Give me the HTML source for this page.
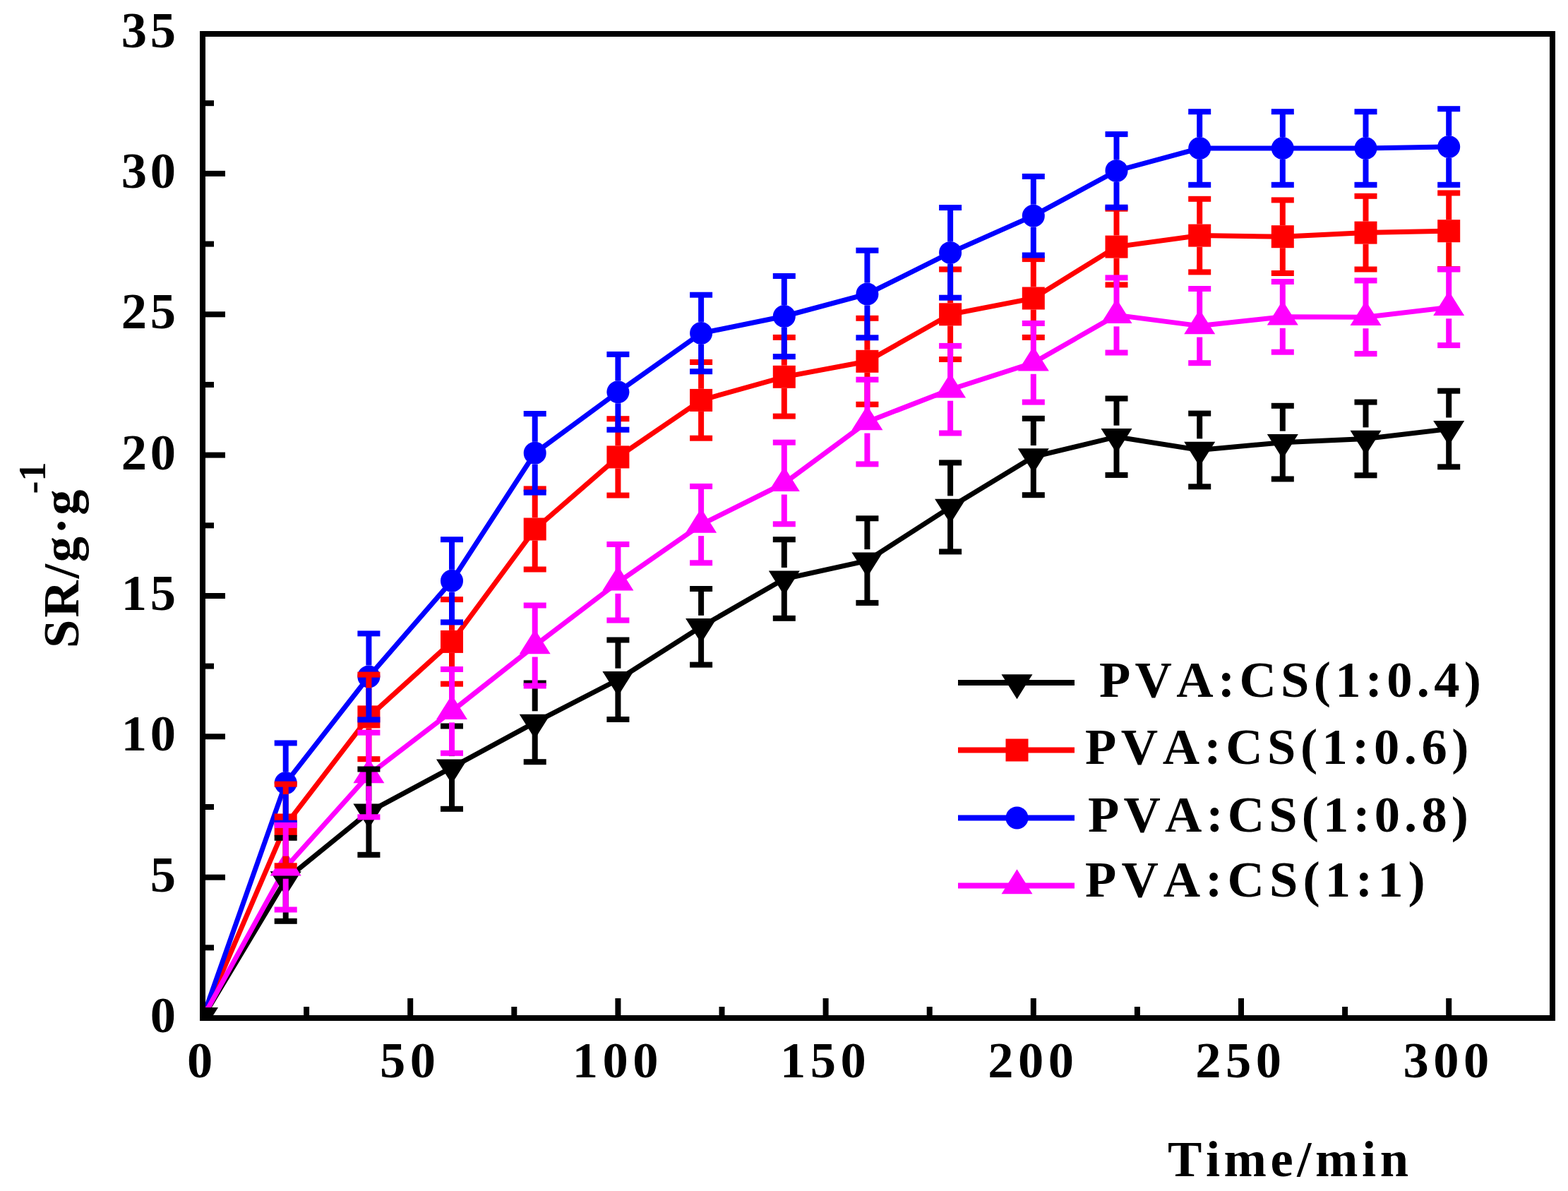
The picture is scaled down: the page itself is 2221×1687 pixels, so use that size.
<!DOCTYPE html>
<html><head><meta charset="utf-8"><title>Swelling ratio vs time</title>
<style>
html,body{margin:0;padding:0;background:#fff;}
svg{display:block;}
.t{font-family:"Liberation Serif","Times New Roman",serif;font-weight:bold;font-size:72.5px;fill:#000;font-kerning:none;}
</style></head>
<body>
<svg width="2221" height="1687" viewBox="0 0 2221 1687">
<rect width="2221" height="1687" fill="#fff"/>
<rect x="287.0" y="48.0" width="1912.0" height="1394.0" fill="none" stroke="#000" stroke-width="8"/>
<rect x="287.0" y="1438.0" width="32" height="8" fill="#000"/>
<rect x="287.0" y="1338.3" width="16" height="8" fill="#000"/>
<rect x="287.0" y="1238.7" width="32" height="8" fill="#000"/>
<rect x="287.0" y="1139.0" width="16" height="8" fill="#000"/>
<rect x="287.0" y="1039.3" width="32" height="8" fill="#000"/>
<rect x="287.0" y="939.6" width="16" height="8" fill="#000"/>
<rect x="287.0" y="840.0" width="32" height="8" fill="#000"/>
<rect x="287.0" y="740.3" width="16" height="8" fill="#000"/>
<rect x="287.0" y="640.6" width="32" height="8" fill="#000"/>
<rect x="287.0" y="540.9" width="16" height="8" fill="#000"/>
<rect x="287.0" y="441.3" width="32" height="8" fill="#000"/>
<rect x="287.0" y="341.6" width="16" height="8" fill="#000"/>
<rect x="287.0" y="241.9" width="32" height="8" fill="#000"/>
<rect x="287.0" y="142.2" width="16" height="8" fill="#000"/>
<rect x="283.0" y="1414.0" width="8" height="28" fill="#000"/>
<rect x="430.1" y="1426.0" width="8" height="16" fill="#000"/>
<rect x="577.2" y="1414.0" width="8" height="28" fill="#000"/>
<rect x="724.3" y="1426.0" width="8" height="16" fill="#000"/>
<rect x="871.4" y="1414.0" width="8" height="28" fill="#000"/>
<rect x="1018.5" y="1426.0" width="8" height="16" fill="#000"/>
<rect x="1165.6" y="1414.0" width="8" height="28" fill="#000"/>
<rect x="1312.7" y="1426.0" width="8" height="16" fill="#000"/>
<rect x="1459.8" y="1414.0" width="8" height="28" fill="#000"/>
<rect x="1606.9" y="1426.0" width="8" height="16" fill="#000"/>
<rect x="1754.0" y="1414.0" width="8" height="28" fill="#000"/>
<rect x="1901.1" y="1426.0" width="8" height="16" fill="#000"/>
<rect x="2048.2" y="1414.0" width="8" height="28" fill="#000"/>
<clipPath id="pa"><rect x="291.0" y="52.0" width="1904.0" height="1386.0"/></clipPath>
<g clip-path="url(#pa)"><polyline points="287.0,1442.0 404.7,1245.8 522.4,1150.2 640.0,1087.2 757.7,1023.4 875.4,962.8 993.1,887.8 1110.8,820.0 1228.4,794.1 1346.1,718.4 1463.8,647.0 1581.5,618.7 1699.2,637.4 1816.8,626.7 1934.5,621.5 2052.2,607.5" fill="none" stroke="#000000" stroke-width="7" stroke-linejoin="miter"/><polyline points="287.0,1442.0 404.7,1168.5 522.4,1015.4 640.0,908.9 757.7,749.5 875.4,647.4 993.1,566.9 1110.8,533.8 1228.4,511.8 1346.1,445.3 1463.8,422.5 1581.5,349.6 1699.2,333.6 1816.8,335.2 1934.5,329.6 2052.2,327.2" fill="none" stroke="#ff0000" stroke-width="7" stroke-linejoin="miter"/><polyline points="287.0,1442.0 404.7,1109.1 522.4,958.4 640.0,822.8 757.7,641.8 875.4,555.3 993.1,472.0 1110.8,448.0 1228.4,416.5 1346.1,357.9 1463.8,305.7 1581.5,241.9 1699.2,210.0 1816.8,210.0 1934.5,210.0 2052.2,208.0" fill="none" stroke="#0000ff" stroke-width="7" stroke-linejoin="miter"/><polyline points="287.0,1442.0 404.7,1228.7 522.4,1097.5 640.0,1007.4 757.7,914.5 875.4,824.8 993.1,743.1 1110.8,684.5 1228.4,597.6 1346.1,551.7 1463.8,513.8 1581.5,446.4 1699.2,461.6 1816.8,448.8 1934.5,449.2 2052.2,435.3" fill="none" stroke="#ff00ff" stroke-width="7" stroke-linejoin="miter"/></g>
<polygon points="382.7,1234.2 426.7,1234.2 404.7,1269.2" fill="#000000"/>
<polygon points="500.4,1138.5 544.4,1138.5 522.4,1173.5" fill="#000000"/>
<polygon points="618.0,1075.5 662.0,1075.5 640.0,1110.5" fill="#000000"/>
<polygon points="735.7,1011.7 779.7,1011.7 757.7,1046.7" fill="#000000"/>
<polygon points="853.4,951.1 897.4,951.1 875.4,986.1" fill="#000000"/>
<polygon points="971.1,876.1 1015.1,876.1 993.1,911.1" fill="#000000"/>
<polygon points="1088.8,808.4 1132.8,808.4 1110.8,843.4" fill="#000000"/>
<polygon points="1206.4,782.4 1250.4,782.4 1228.4,817.4" fill="#000000"/>
<polygon points="1324.1,706.7 1368.1,706.7 1346.1,741.7" fill="#000000"/>
<polygon points="1441.8,635.3 1485.8,635.3 1463.8,670.3" fill="#000000"/>
<polygon points="1559.5,607.0 1603.5,607.0 1581.5,642.0" fill="#000000"/>
<polygon points="1677.2,625.8 1721.2,625.8 1699.2,660.8" fill="#000000"/>
<polygon points="1794.8,615.0 1838.8,615.0 1816.8,650.0" fill="#000000"/>
<polygon points="1912.5,609.8 1956.5,609.8 1934.5,644.8" fill="#000000"/>
<polygon points="2030.2,595.9 2074.2,595.9 2052.2,630.9" fill="#000000"/>
<rect x="388.7" y="1152.5" width="32" height="32" fill="#ff0000"/>
<rect x="506.4" y="999.4" width="32" height="32" fill="#ff0000"/>
<rect x="624.0" y="892.9" width="32" height="32" fill="#ff0000"/>
<rect x="741.7" y="733.5" width="32" height="32" fill="#ff0000"/>
<rect x="859.4" y="631.4" width="32" height="32" fill="#ff0000"/>
<rect x="977.1" y="550.9" width="32" height="32" fill="#ff0000"/>
<rect x="1094.8" y="517.8" width="32" height="32" fill="#ff0000"/>
<rect x="1212.4" y="495.8" width="32" height="32" fill="#ff0000"/>
<rect x="1330.1" y="429.3" width="32" height="32" fill="#ff0000"/>
<rect x="1447.8" y="406.5" width="32" height="32" fill="#ff0000"/>
<rect x="1565.5" y="333.6" width="32" height="32" fill="#ff0000"/>
<rect x="1683.2" y="317.6" width="32" height="32" fill="#ff0000"/>
<rect x="1800.8" y="319.2" width="32" height="32" fill="#ff0000"/>
<rect x="1918.5" y="313.6" width="32" height="32" fill="#ff0000"/>
<rect x="2036.2" y="311.2" width="32" height="32" fill="#ff0000"/>
<circle cx="404.7" cy="1109.1" r="16.0" fill="#0000ff"/>
<circle cx="522.4" cy="958.4" r="16.0" fill="#0000ff"/>
<circle cx="640.0" cy="822.8" r="16.0" fill="#0000ff"/>
<circle cx="757.7" cy="641.8" r="16.0" fill="#0000ff"/>
<circle cx="875.4" cy="555.3" r="16.0" fill="#0000ff"/>
<circle cx="993.1" cy="472.0" r="16.0" fill="#0000ff"/>
<circle cx="1110.8" cy="448.0" r="16.0" fill="#0000ff"/>
<circle cx="1228.4" cy="416.5" r="16.0" fill="#0000ff"/>
<circle cx="1346.1" cy="357.9" r="16.0" fill="#0000ff"/>
<circle cx="1463.8" cy="305.7" r="16.0" fill="#0000ff"/>
<circle cx="1581.5" cy="241.9" r="16.0" fill="#0000ff"/>
<circle cx="1699.2" cy="210.0" r="16.0" fill="#0000ff"/>
<circle cx="1816.8" cy="210.0" r="16.0" fill="#0000ff"/>
<circle cx="1934.5" cy="210.0" r="16.0" fill="#0000ff"/>
<circle cx="2052.2" cy="208.0" r="16.0" fill="#0000ff"/>
<polygon points="404.7,1205.4 426.7,1240.4 382.7,1240.4" fill="#ff00ff"/>
<polygon points="522.4,1074.2 544.4,1109.2 500.4,1109.2" fill="#ff00ff"/>
<polygon points="640.0,984.1 662.0,1019.1 618.0,1019.1" fill="#ff00ff"/>
<polygon points="757.7,891.2 779.7,926.2 735.7,926.2" fill="#ff00ff"/>
<polygon points="875.4,801.5 897.4,836.5 853.4,836.5" fill="#ff00ff"/>
<polygon points="993.1,719.7 1015.1,754.7 971.1,754.7" fill="#ff00ff"/>
<polygon points="1110.8,661.1 1132.8,696.1 1088.8,696.1" fill="#ff00ff"/>
<polygon points="1228.4,574.2 1250.4,609.2 1206.4,609.2" fill="#ff00ff"/>
<polygon points="1346.1,528.4 1368.1,563.4 1324.1,563.4" fill="#ff00ff"/>
<polygon points="1463.8,490.5 1485.8,525.5 1441.8,525.5" fill="#ff00ff"/>
<polygon points="1581.5,423.1 1603.5,458.1 1559.5,458.1" fill="#ff00ff"/>
<polygon points="1699.2,438.3 1721.2,473.3 1677.2,473.3" fill="#ff00ff"/>
<polygon points="1816.8,425.5 1838.8,460.5 1794.8,460.5" fill="#ff00ff"/>
<polygon points="1934.5,425.9 1956.5,460.9 1912.5,460.9" fill="#ff00ff"/>
<polygon points="2052.2,411.9 2074.2,446.9 2030.2,446.9" fill="#ff00ff"/>
<rect x="400.7" y="1186.8" width="8" height="43.0" fill="#000000"/>
<rect x="400.7" y="1261.8" width="8" height="43.0" fill="#000000"/>
<rect x="388.7" y="1182.8" width="32" height="8" fill="#000000"/>
<rect x="388.7" y="1300.8" width="32" height="8" fill="#000000"/>
<rect x="518.4" y="1089.5" width="8" height="44.6" fill="#000000"/>
<rect x="518.4" y="1166.2" width="8" height="44.6" fill="#000000"/>
<rect x="506.4" y="1085.5" width="32" height="8" fill="#000000"/>
<rect x="506.4" y="1206.8" width="32" height="8" fill="#000000"/>
<rect x="636.0" y="1028.5" width="8" height="42.6" fill="#000000"/>
<rect x="636.0" y="1103.2" width="8" height="42.6" fill="#000000"/>
<rect x="624.0" y="1024.5" width="32" height="8" fill="#000000"/>
<rect x="624.0" y="1141.8" width="32" height="8" fill="#000000"/>
<rect x="753.7" y="967.5" width="8" height="39.8" fill="#000000"/>
<rect x="753.7" y="1039.4" width="8" height="39.8" fill="#000000"/>
<rect x="741.7" y="963.5" width="32" height="8" fill="#000000"/>
<rect x="741.7" y="1075.2" width="32" height="8" fill="#000000"/>
<rect x="871.4" y="906.5" width="8" height="40.2" fill="#000000"/>
<rect x="871.4" y="978.8" width="8" height="40.2" fill="#000000"/>
<rect x="859.4" y="902.5" width="32" height="8" fill="#000000"/>
<rect x="859.4" y="1015.0" width="32" height="8" fill="#000000"/>
<rect x="989.1" y="834.0" width="8" height="37.8" fill="#000000"/>
<rect x="989.1" y="903.8" width="8" height="37.8" fill="#000000"/>
<rect x="977.1" y="830.0" width="32" height="8" fill="#000000"/>
<rect x="977.1" y="937.6" width="32" height="8" fill="#000000"/>
<rect x="1106.8" y="764.2" width="8" height="39.8" fill="#000000"/>
<rect x="1106.8" y="836.0" width="8" height="39.8" fill="#000000"/>
<rect x="1094.8" y="760.2" width="32" height="8" fill="#000000"/>
<rect x="1094.8" y="871.8" width="32" height="8" fill="#000000"/>
<rect x="1224.4" y="734.3" width="8" height="43.8" fill="#000000"/>
<rect x="1224.4" y="810.1" width="8" height="43.8" fill="#000000"/>
<rect x="1212.4" y="730.3" width="32" height="8" fill="#000000"/>
<rect x="1212.4" y="849.9" width="32" height="8" fill="#000000"/>
<rect x="1342.1" y="655.4" width="8" height="47.0" fill="#000000"/>
<rect x="1342.1" y="734.4" width="8" height="47.0" fill="#000000"/>
<rect x="1330.1" y="651.4" width="32" height="8" fill="#000000"/>
<rect x="1330.1" y="777.4" width="32" height="8" fill="#000000"/>
<rect x="1459.8" y="592.8" width="8" height="38.2" fill="#000000"/>
<rect x="1459.8" y="663.0" width="8" height="38.2" fill="#000000"/>
<rect x="1447.8" y="588.8" width="32" height="8" fill="#000000"/>
<rect x="1447.8" y="697.2" width="32" height="8" fill="#000000"/>
<rect x="1577.5" y="564.5" width="8" height="38.2" fill="#000000"/>
<rect x="1577.5" y="634.7" width="8" height="38.2" fill="#000000"/>
<rect x="1565.5" y="560.5" width="32" height="8" fill="#000000"/>
<rect x="1565.5" y="668.9" width="32" height="8" fill="#000000"/>
<rect x="1695.2" y="585.6" width="8" height="35.8" fill="#000000"/>
<rect x="1695.2" y="653.4" width="8" height="35.8" fill="#000000"/>
<rect x="1683.2" y="581.6" width="32" height="8" fill="#000000"/>
<rect x="1683.2" y="685.3" width="32" height="8" fill="#000000"/>
<rect x="1812.8" y="574.8" width="8" height="35.8" fill="#000000"/>
<rect x="1812.8" y="642.7" width="8" height="35.8" fill="#000000"/>
<rect x="1800.8" y="570.8" width="32" height="8" fill="#000000"/>
<rect x="1800.8" y="674.5" width="32" height="8" fill="#000000"/>
<rect x="1930.5" y="569.6" width="8" height="35.8" fill="#000000"/>
<rect x="1930.5" y="637.5" width="8" height="35.8" fill="#000000"/>
<rect x="1918.5" y="565.6" width="32" height="8" fill="#000000"/>
<rect x="1918.5" y="669.3" width="32" height="8" fill="#000000"/>
<rect x="2048.2" y="553.7" width="8" height="37.8" fill="#000000"/>
<rect x="2048.2" y="623.5" width="8" height="37.8" fill="#000000"/>
<rect x="2036.2" y="549.7" width="32" height="8" fill="#000000"/>
<rect x="2036.2" y="657.3" width="32" height="8" fill="#000000"/>
<rect x="400.7" y="1110.7" width="8" height="41.8" fill="#ff0000"/>
<rect x="400.7" y="1184.5" width="8" height="41.8" fill="#ff0000"/>
<rect x="388.7" y="1106.7" width="32" height="8" fill="#ff0000"/>
<rect x="388.7" y="1222.3" width="32" height="8" fill="#ff0000"/>
<rect x="518.4" y="955.6" width="8" height="43.8" fill="#ff0000"/>
<rect x="518.4" y="1031.4" width="8" height="43.8" fill="#ff0000"/>
<rect x="506.4" y="951.6" width="32" height="8" fill="#ff0000"/>
<rect x="506.4" y="1071.2" width="32" height="8" fill="#ff0000"/>
<rect x="636.0" y="849.1" width="8" height="43.8" fill="#ff0000"/>
<rect x="636.0" y="924.9" width="8" height="43.8" fill="#ff0000"/>
<rect x="624.0" y="845.1" width="32" height="8" fill="#ff0000"/>
<rect x="624.0" y="964.7" width="32" height="8" fill="#ff0000"/>
<rect x="753.7" y="692.4" width="8" height="41.0" fill="#ff0000"/>
<rect x="753.7" y="765.5" width="8" height="41.0" fill="#ff0000"/>
<rect x="741.7" y="688.4" width="32" height="8" fill="#ff0000"/>
<rect x="741.7" y="802.5" width="32" height="8" fill="#ff0000"/>
<rect x="871.4" y="593.2" width="8" height="38.2" fill="#ff0000"/>
<rect x="871.4" y="663.4" width="8" height="38.2" fill="#ff0000"/>
<rect x="859.4" y="589.2" width="32" height="8" fill="#ff0000"/>
<rect x="859.4" y="697.6" width="32" height="8" fill="#ff0000"/>
<rect x="989.1" y="513.0" width="8" height="37.8" fill="#ff0000"/>
<rect x="989.1" y="582.9" width="8" height="37.8" fill="#ff0000"/>
<rect x="977.1" y="509.0" width="32" height="8" fill="#ff0000"/>
<rect x="977.1" y="616.7" width="32" height="8" fill="#ff0000"/>
<rect x="1106.8" y="477.9" width="8" height="39.8" fill="#ff0000"/>
<rect x="1106.8" y="549.8" width="8" height="39.8" fill="#ff0000"/>
<rect x="1094.8" y="473.9" width="32" height="8" fill="#ff0000"/>
<rect x="1094.8" y="585.6" width="32" height="8" fill="#ff0000"/>
<rect x="1224.4" y="450.8" width="8" height="45.0" fill="#ff0000"/>
<rect x="1224.4" y="527.8" width="8" height="45.0" fill="#ff0000"/>
<rect x="1212.4" y="446.8" width="32" height="8" fill="#ff0000"/>
<rect x="1212.4" y="568.8" width="32" height="8" fill="#ff0000"/>
<rect x="1342.1" y="381.5" width="8" height="47.8" fill="#ff0000"/>
<rect x="1342.1" y="461.3" width="8" height="47.8" fill="#ff0000"/>
<rect x="1330.1" y="377.5" width="32" height="8" fill="#ff0000"/>
<rect x="1330.1" y="505.0" width="32" height="8" fill="#ff0000"/>
<rect x="1459.8" y="367.1" width="8" height="39.4" fill="#ff0000"/>
<rect x="1459.8" y="438.5" width="8" height="39.4" fill="#ff0000"/>
<rect x="1447.8" y="363.1" width="32" height="8" fill="#ff0000"/>
<rect x="1447.8" y="473.9" width="32" height="8" fill="#ff0000"/>
<rect x="1577.5" y="295.7" width="8" height="37.8" fill="#ff0000"/>
<rect x="1577.5" y="365.6" width="8" height="37.8" fill="#ff0000"/>
<rect x="1565.5" y="291.7" width="32" height="8" fill="#ff0000"/>
<rect x="1565.5" y="399.4" width="32" height="8" fill="#ff0000"/>
<rect x="1695.2" y="281.8" width="8" height="35.8" fill="#ff0000"/>
<rect x="1695.2" y="349.6" width="8" height="35.8" fill="#ff0000"/>
<rect x="1683.2" y="277.8" width="32" height="8" fill="#ff0000"/>
<rect x="1683.2" y="381.4" width="32" height="8" fill="#ff0000"/>
<rect x="1812.8" y="283.4" width="8" height="35.8" fill="#ff0000"/>
<rect x="1812.8" y="351.2" width="8" height="35.8" fill="#ff0000"/>
<rect x="1800.8" y="279.4" width="32" height="8" fill="#ff0000"/>
<rect x="1800.8" y="383.0" width="32" height="8" fill="#ff0000"/>
<rect x="1930.5" y="277.8" width="8" height="35.8" fill="#ff0000"/>
<rect x="1930.5" y="345.6" width="8" height="35.8" fill="#ff0000"/>
<rect x="1918.5" y="273.8" width="32" height="8" fill="#ff0000"/>
<rect x="1918.5" y="377.5" width="32" height="8" fill="#ff0000"/>
<rect x="2048.2" y="273.4" width="8" height="37.8" fill="#ff0000"/>
<rect x="2048.2" y="343.2" width="8" height="37.8" fill="#ff0000"/>
<rect x="2036.2" y="269.4" width="32" height="8" fill="#ff0000"/>
<rect x="2036.2" y="377.1" width="32" height="8" fill="#ff0000"/>
<rect x="400.7" y="1052.5" width="8" height="40.6" fill="#0000ff"/>
<rect x="400.7" y="1125.1" width="8" height="40.6" fill="#0000ff"/>
<rect x="388.7" y="1048.5" width="32" height="8" fill="#0000ff"/>
<rect x="388.7" y="1161.7" width="32" height="8" fill="#0000ff"/>
<rect x="518.4" y="897.4" width="8" height="45.0" fill="#0000ff"/>
<rect x="518.4" y="974.4" width="8" height="45.0" fill="#0000ff"/>
<rect x="506.4" y="893.4" width="32" height="8" fill="#0000ff"/>
<rect x="506.4" y="1015.4" width="32" height="8" fill="#0000ff"/>
<rect x="636.0" y="764.2" width="8" height="42.6" fill="#0000ff"/>
<rect x="636.0" y="838.8" width="8" height="42.6" fill="#0000ff"/>
<rect x="624.0" y="760.2" width="32" height="8" fill="#0000ff"/>
<rect x="624.0" y="877.4" width="32" height="8" fill="#0000ff"/>
<rect x="753.7" y="586.0" width="8" height="39.8" fill="#0000ff"/>
<rect x="753.7" y="657.8" width="8" height="39.8" fill="#0000ff"/>
<rect x="741.7" y="582.0" width="32" height="8" fill="#0000ff"/>
<rect x="741.7" y="693.6" width="32" height="8" fill="#0000ff"/>
<rect x="871.4" y="501.9" width="8" height="37.4" fill="#0000ff"/>
<rect x="871.4" y="571.3" width="8" height="37.4" fill="#0000ff"/>
<rect x="859.4" y="497.9" width="32" height="8" fill="#0000ff"/>
<rect x="859.4" y="604.7" width="32" height="8" fill="#0000ff"/>
<rect x="989.1" y="417.7" width="8" height="38.2" fill="#0000ff"/>
<rect x="989.1" y="488.0" width="8" height="38.2" fill="#0000ff"/>
<rect x="977.1" y="413.7" width="32" height="8" fill="#0000ff"/>
<rect x="977.1" y="522.2" width="32" height="8" fill="#0000ff"/>
<rect x="1106.8" y="391.0" width="8" height="41.0" fill="#0000ff"/>
<rect x="1106.8" y="464.0" width="8" height="41.0" fill="#0000ff"/>
<rect x="1094.8" y="387.0" width="32" height="8" fill="#0000ff"/>
<rect x="1094.8" y="501.1" width="32" height="8" fill="#0000ff"/>
<rect x="1224.4" y="354.7" width="8" height="45.8" fill="#0000ff"/>
<rect x="1224.4" y="432.5" width="8" height="45.8" fill="#0000ff"/>
<rect x="1212.4" y="350.7" width="32" height="8" fill="#0000ff"/>
<rect x="1212.4" y="474.3" width="32" height="8" fill="#0000ff"/>
<rect x="1342.1" y="294.1" width="8" height="47.8" fill="#0000ff"/>
<rect x="1342.1" y="373.9" width="8" height="47.8" fill="#0000ff"/>
<rect x="1330.1" y="290.1" width="32" height="8" fill="#0000ff"/>
<rect x="1330.1" y="417.7" width="32" height="8" fill="#0000ff"/>
<rect x="1459.8" y="249.9" width="8" height="39.8" fill="#0000ff"/>
<rect x="1459.8" y="321.7" width="8" height="39.8" fill="#0000ff"/>
<rect x="1447.8" y="245.9" width="32" height="8" fill="#0000ff"/>
<rect x="1447.8" y="357.5" width="32" height="8" fill="#0000ff"/>
<rect x="1577.5" y="190.1" width="8" height="35.8" fill="#0000ff"/>
<rect x="1577.5" y="257.9" width="8" height="35.8" fill="#0000ff"/>
<rect x="1565.5" y="186.1" width="32" height="8" fill="#0000ff"/>
<rect x="1565.5" y="289.7" width="32" height="8" fill="#0000ff"/>
<rect x="1695.2" y="158.2" width="8" height="35.8" fill="#0000ff"/>
<rect x="1695.2" y="226.0" width="8" height="35.8" fill="#0000ff"/>
<rect x="1683.2" y="154.2" width="32" height="8" fill="#0000ff"/>
<rect x="1683.2" y="257.8" width="32" height="8" fill="#0000ff"/>
<rect x="1812.8" y="158.2" width="8" height="35.8" fill="#0000ff"/>
<rect x="1812.8" y="226.0" width="8" height="35.8" fill="#0000ff"/>
<rect x="1800.8" y="154.2" width="32" height="8" fill="#0000ff"/>
<rect x="1800.8" y="257.8" width="32" height="8" fill="#0000ff"/>
<rect x="1930.5" y="158.2" width="8" height="35.8" fill="#0000ff"/>
<rect x="1930.5" y="226.0" width="8" height="35.8" fill="#0000ff"/>
<rect x="1918.5" y="154.2" width="32" height="8" fill="#0000ff"/>
<rect x="1918.5" y="257.8" width="32" height="8" fill="#0000ff"/>
<rect x="2048.2" y="154.2" width="8" height="37.8" fill="#0000ff"/>
<rect x="2048.2" y="224.0" width="8" height="37.8" fill="#0000ff"/>
<rect x="2036.2" y="150.2" width="32" height="8" fill="#0000ff"/>
<rect x="2036.2" y="257.8" width="32" height="8" fill="#0000ff"/>
<rect x="400.7" y="1168.9" width="8" height="43.8" fill="#ff00ff"/>
<rect x="400.7" y="1244.7" width="8" height="43.8" fill="#ff00ff"/>
<rect x="388.7" y="1164.9" width="32" height="8" fill="#ff00ff"/>
<rect x="388.7" y="1284.5" width="32" height="8" fill="#ff00ff"/>
<rect x="518.4" y="1037.7" width="8" height="43.8" fill="#ff00ff"/>
<rect x="518.4" y="1113.5" width="8" height="43.8" fill="#ff00ff"/>
<rect x="506.4" y="1033.7" width="32" height="8" fill="#ff00ff"/>
<rect x="506.4" y="1153.3" width="32" height="8" fill="#ff00ff"/>
<rect x="636.0" y="948.0" width="8" height="43.4" fill="#ff00ff"/>
<rect x="636.0" y="1023.4" width="8" height="43.4" fill="#ff00ff"/>
<rect x="624.0" y="944.0" width="32" height="8" fill="#ff00ff"/>
<rect x="624.0" y="1062.8" width="32" height="8" fill="#ff00ff"/>
<rect x="753.7" y="857.5" width="8" height="41.0" fill="#ff00ff"/>
<rect x="753.7" y="930.5" width="8" height="41.0" fill="#ff00ff"/>
<rect x="741.7" y="853.5" width="32" height="8" fill="#ff00ff"/>
<rect x="741.7" y="967.5" width="32" height="8" fill="#ff00ff"/>
<rect x="871.4" y="771.0" width="8" height="37.8" fill="#ff00ff"/>
<rect x="871.4" y="840.8" width="8" height="37.8" fill="#ff00ff"/>
<rect x="859.4" y="767.0" width="32" height="8" fill="#ff00ff"/>
<rect x="859.4" y="874.6" width="32" height="8" fill="#ff00ff"/>
<rect x="989.1" y="688.9" width="8" height="38.2" fill="#ff00ff"/>
<rect x="989.1" y="759.1" width="8" height="38.2" fill="#ff00ff"/>
<rect x="977.1" y="684.9" width="32" height="8" fill="#ff00ff"/>
<rect x="977.1" y="793.3" width="32" height="8" fill="#ff00ff"/>
<rect x="1106.8" y="626.7" width="8" height="41.8" fill="#ff00ff"/>
<rect x="1106.8" y="700.5" width="8" height="41.8" fill="#ff00ff"/>
<rect x="1094.8" y="622.7" width="32" height="8" fill="#ff00ff"/>
<rect x="1094.8" y="738.3" width="32" height="8" fill="#ff00ff"/>
<rect x="1224.4" y="537.7" width="8" height="43.8" fill="#ff00ff"/>
<rect x="1224.4" y="613.6" width="8" height="43.8" fill="#ff00ff"/>
<rect x="1212.4" y="533.7" width="32" height="8" fill="#ff00ff"/>
<rect x="1212.4" y="653.4" width="32" height="8" fill="#ff00ff"/>
<rect x="1342.1" y="489.9" width="8" height="45.8" fill="#ff00ff"/>
<rect x="1342.1" y="567.7" width="8" height="45.8" fill="#ff00ff"/>
<rect x="1330.1" y="485.9" width="32" height="8" fill="#ff00ff"/>
<rect x="1330.1" y="609.5" width="32" height="8" fill="#ff00ff"/>
<rect x="1459.8" y="458.0" width="8" height="39.8" fill="#ff00ff"/>
<rect x="1459.8" y="529.8" width="8" height="39.8" fill="#ff00ff"/>
<rect x="1447.8" y="454.0" width="32" height="8" fill="#ff00ff"/>
<rect x="1447.8" y="565.6" width="32" height="8" fill="#ff00ff"/>
<rect x="1577.5" y="393.4" width="8" height="37.0" fill="#ff00ff"/>
<rect x="1577.5" y="462.4" width="8" height="37.0" fill="#ff00ff"/>
<rect x="1565.5" y="389.4" width="32" height="8" fill="#ff00ff"/>
<rect x="1565.5" y="495.5" width="32" height="8" fill="#ff00ff"/>
<rect x="1695.2" y="409.0" width="8" height="36.6" fill="#ff00ff"/>
<rect x="1695.2" y="477.6" width="8" height="36.6" fill="#ff00ff"/>
<rect x="1683.2" y="405.0" width="32" height="8" fill="#ff00ff"/>
<rect x="1683.2" y="510.2" width="32" height="8" fill="#ff00ff"/>
<rect x="1812.8" y="399.0" width="8" height="33.8" fill="#ff00ff"/>
<rect x="1812.8" y="464.8" width="8" height="33.8" fill="#ff00ff"/>
<rect x="1800.8" y="395.0" width="32" height="8" fill="#ff00ff"/>
<rect x="1800.8" y="494.7" width="32" height="8" fill="#ff00ff"/>
<rect x="1930.5" y="397.4" width="8" height="35.8" fill="#ff00ff"/>
<rect x="1930.5" y="465.2" width="8" height="35.8" fill="#ff00ff"/>
<rect x="1918.5" y="393.4" width="32" height="8" fill="#ff00ff"/>
<rect x="1918.5" y="497.1" width="32" height="8" fill="#ff00ff"/>
<rect x="2048.2" y="381.5" width="8" height="37.8" fill="#ff00ff"/>
<rect x="2048.2" y="451.3" width="8" height="37.8" fill="#ff00ff"/>
<rect x="2036.2" y="377.5" width="32" height="8" fill="#ff00ff"/>
<rect x="2036.2" y="485.1" width="32" height="8" fill="#ff00ff"/>
<g clip-path="url(#pa)"><polygon points="287.0,1418.7 309.0,1453.7 265.0,1453.7" fill="#ff00ff"/><polygon points="265.0,1427.0 309.0,1427.0 287.0,1462.0" fill="#000000"/></g>
<text x="253.65" y="1462.0" text-anchor="end" class="t" letter-spacing="4.75">0</text>
<text x="253.65" y="1262.7" text-anchor="end" class="t" letter-spacing="4.75">5</text>
<text x="253.65" y="1063.3" text-anchor="end" class="t" letter-spacing="4.75">10</text>
<text x="253.65" y="864.0" text-anchor="end" class="t" letter-spacing="4.75">15</text>
<text x="253.65" y="664.6" text-anchor="end" class="t" letter-spacing="4.75">20</text>
<text x="253.65" y="465.3" text-anchor="end" class="t" letter-spacing="4.75">25</text>
<text x="253.65" y="265.9" text-anchor="end" class="t" letter-spacing="4.75">30</text>
<text x="253.65" y="66.6" text-anchor="end" class="t" letter-spacing="4.75">35</text>
<text x="286.45" y="1525.5" text-anchor="middle" class="t" letter-spacing="6.5">0</text>
<text x="580.65" y="1525.5" text-anchor="middle" class="t" letter-spacing="6.5">50</text>
<text x="874.85" y="1525.5" text-anchor="middle" class="t" letter-spacing="6.5">100</text>
<text x="1169.05" y="1525.5" text-anchor="middle" class="t" letter-spacing="6.5">150</text>
<text x="1463.25" y="1525.5" text-anchor="middle" class="t" letter-spacing="6.5">200</text>
<text x="1757.45" y="1525.5" text-anchor="middle" class="t" letter-spacing="6.5">250</text>
<text x="2051.65" y="1525.5" text-anchor="middle" class="t" letter-spacing="6.5">300</text>
<text x="1654" y="1665.5" class="t" font-size="76" letter-spacing="5.56">Time/min</text>
<text transform="translate(110.5,918) rotate(-90)" class="t" letter-spacing="3">SR/g·g<tspan font-size="54" dy="-47" dx="-9" letter-spacing="0">-1</tspan></text>
<rect x="1357" y="963" width="165" height="8" fill="#000000"/>
<polygon points="1418.5,955.3 1462.5,955.3 1440.5,990.3" fill="#000000"/>
<text x="1557" y="986.5" class="t" letter-spacing="6.32">PVA:CS(1:0.4)</text>
<rect x="1357" y="1058.5" width="165" height="8" fill="#ff0000"/>
<rect x="1424.5" y="1046.5" width="32" height="32" fill="#ff0000"/>
<text x="1537" y="1082" class="t" letter-spacing="6.52">PVA:CS(1:0.6)</text>
<rect x="1357" y="1154.5" width="165" height="8" fill="#0000ff"/>
<circle cx="1440.5" cy="1158.5" r="16.0" fill="#0000ff"/>
<text x="1541" y="1177.7" class="t" letter-spacing="6.15">PVA:CS(1:0.8)</text>
<rect x="1357" y="1250.5" width="165" height="8" fill="#ff00ff"/>
<polygon points="1440.5,1231.2 1462.5,1266.2 1418.5,1266.2" fill="#ff00ff"/>
<text x="1537" y="1270" class="t" letter-spacing="7.1">PVA:CS(1:1)</text>
</svg>
</body></html>
